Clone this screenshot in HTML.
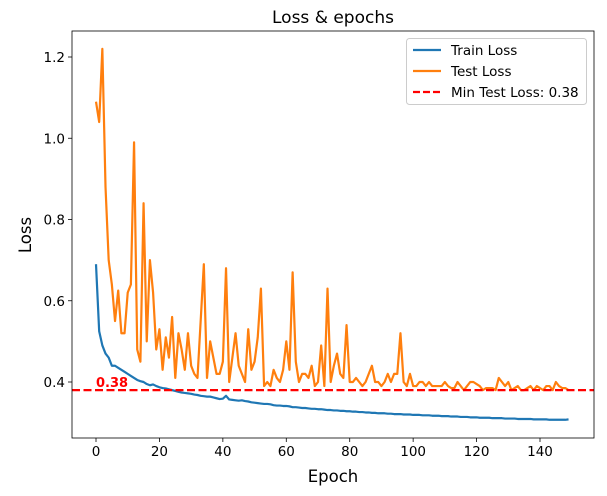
<!DOCTYPE html>
<html><head><meta charset="utf-8"><style>
body{margin:0;background:#fff;font-family:"Liberation Sans","DejaVu Sans",sans-serif}
svg text{font-family:"DejaVu Sans","Liberation Sans",sans-serif}
</style></head><body>
<svg id="chart" width="607" height="491" xmlns="http://www.w3.org/2000/svg"></svg>
<script>
const epochs = Array.from({length:150},(_,i)=>i);
const testLoss = [1.09,1.04,1.22,0.88,0.70,0.64,0.55,0.625,0.52,0.52,0.62,0.64,0.99,0.48,0.45,0.84,0.50,0.70,0.62,0.48,0.53,0.43,0.51,0.46,0.56,0.41,0.52,0.48,0.43,0.52,0.44,0.42,0.41,0.55,0.69,0.41,0.50,0.46,0.42,0.42,0.45,0.68,0.40,0.46,0.52,0.44,0.42,0.40,0.53,0.43,0.45,0.51,0.63,0.39,0.40,0.39,0.43,0.41,0.40,0.43,0.50,0.43,0.67,0.45,0.40,0.42,0.42,0.41,0.44,0.39,0.40,0.49,0.39,0.63,0.40,0.44,0.47,0.42,0.41,0.54,0.40,0.40,0.41,0.40,0.39,0.40,0.42,0.44,0.40,0.40,0.39,0.40,0.42,0.40,0.42,0.42,0.52,0.40,0.39,0.42,0.39,0.39,0.40,0.40,0.39,0.40,0.39,0.39,0.39,0.39,0.40,0.39,0.385,0.385,0.40,0.39,0.38,0.39,0.40,0.40,0.395,0.39,0.38,0.385,0.385,0.385,0.38,0.41,0.40,0.39,0.40,0.38,0.385,0.39,0.38,0.38,0.385,0.39,0.38,0.39,0.385,0.38,0.39,0.39,0.38,0.40,0.39,0.385,0.385,0.38];
const trainLoss = [0.69,0.525,0.49,0.47,0.46,0.44,0.44,0.435,0.43,0.425,0.42,0.415,0.41,0.405,0.402,0.40,0.395,0.392,0.394,0.39,0.387,0.385,0.384,0.382,0.38,0.378,0.376,0.374,0.373,0.372,0.371,0.369,0.368,0.366,0.365,0.364,0.364,0.362,0.36,0.358,0.359,0.366,0.357,0.356,0.355,0.354,0.355,0.353,0.352,0.35,0.349,0.348,0.347,0.346,0.346,0.345,0.343,0.342,0.342,0.341,0.341,0.34,0.338,0.338,0.337,0.336,0.336,0.335,0.334,0.334,0.333,0.333,0.332,0.331,0.331,0.33,0.33,0.329,0.329,0.328,0.328,0.327,0.327,0.326,0.326,0.325,0.325,0.324,0.324,0.323,0.323,0.323,0.322,0.322,0.321,0.321,0.321,0.32,0.32,0.32,0.319,0.319,0.319,0.318,0.318,0.318,0.317,0.317,0.317,0.316,0.316,0.316,0.315,0.315,0.315,0.314,0.314,0.314,0.313,0.313,0.313,0.312,0.312,0.312,0.312,0.311,0.311,0.311,0.311,0.31,0.31,0.31,0.31,0.309,0.309,0.309,0.309,0.309,0.308,0.308,0.308,0.308,0.308,0.307,0.307,0.307,0.307,0.307,0.307,0.308];
const minTest = 0.38;
const xTicks = [0,20,40,60,80,100,120,140];
const yTicks = [0.4,0.6,0.8,1.0,1.2];

const NS="http://www.w3.org/2000/svg";
const svg=document.getElementById('chart');
const L=72,R=594,T=31,B=438;
const xs=v=>96+(v)*(540-96)/140;
const ys=v=>382-(v-0.4)*(382-57)/0.8;
function mk(tag,attrs,parent){const e=document.createElementNS(NS,tag);for(const k in attrs)e.setAttribute(k,attrs[k]);(parent||svg).appendChild(e);return e;}

const title=mk('text',{x:333,y:23,'text-anchor':'middle','font-size':'17'});title.textContent='Loss & epochs';



xTicks.forEach(t=>{
  const g=mk('g',{});
  
  
  mk('line',{x1:xs(t),x2:xs(t),y1:B,y2:B+4,stroke:'#000','stroke-width':0.8},g);
  const tx=mk('text',{x:xs(t),y:B+18,'text-anchor':'middle','font-size':'13.5'},g);tx.textContent=t;
});
yTicks.forEach(t=>{
  const g=mk('g',{});
  
  
  mk('line',{x1:L-4,x2:L,y1:ys(t),y2:ys(t),stroke:'#000','stroke-width':0.8},g);
  const tx=mk('text',{x:L-7,y:ys(t)+5,'text-anchor':'end','font-size':'13.5'},g);tx.textContent=t.toFixed(1);
});
const xl=mk('text',{x:333,y:482,'text-anchor':'middle','font-size':'16.5'});xl.textContent='Epoch';


const yl=mk('text',{x:31,y:235,'text-anchor':'middle','font-size':'16.5',transform:'rotate(-90 31 235)'});yl.textContent='Loss';



function line(data,color,name){
  const p=mk('polyline',{points:data.map((v,i)=>xs(epochs[i])+','+ys(v)).join(' '),fill:'none',stroke:color,'stroke-width':2.2,'stroke-linejoin':'round'});
  
  
}
line(trainLoss,'#1f77b4','train-loss-line');
line(testLoss,'#ff7f0e','test-loss-line');
const ml=mk('line',{x1:L,x2:R,y1:ys(minTest),y2:ys(minTest),stroke:'#ff0000','stroke-width':2.2,'stroke-dasharray':'8,3.5'});


const mt=mk('text',{x:xs(0),y:ys(minTest)-3,fill:'#ff0000','font-size':'13','font-weight':'bold'});mt.textContent=minTest.toFixed(2);



const fr=mk('rect',{x:L,y:T,width:R-L,height:B-T,fill:'none',stroke:'#000','stroke-width':0.8});



const lg=mk('g',{});


mk('rect',{x:406.5,y:38.5,width:180,height:66,rx:3,fill:'#fff','fill-opacity':0.8,stroke:'#ccc'},lg);
[['Train Loss','#1f77b4',''],['Test Loss','#ff7f0e',''],['Min Test Loss: 0.38','#ff0000','7,3']].forEach((e,i)=>{
  const g=mk('g',{},lg);
  
  
  const y=50+i*21;
  mk('line',{x1:413,x2:441,y1:y,y2:y,stroke:e[1],'stroke-width':2.2,'stroke-dasharray':e[2]||'none'},g);
  const t=mk('text',{x:451,y:y+5,'font-size':'13.5'},g);t.textContent=e[0];
});
</script>
</body></html>
